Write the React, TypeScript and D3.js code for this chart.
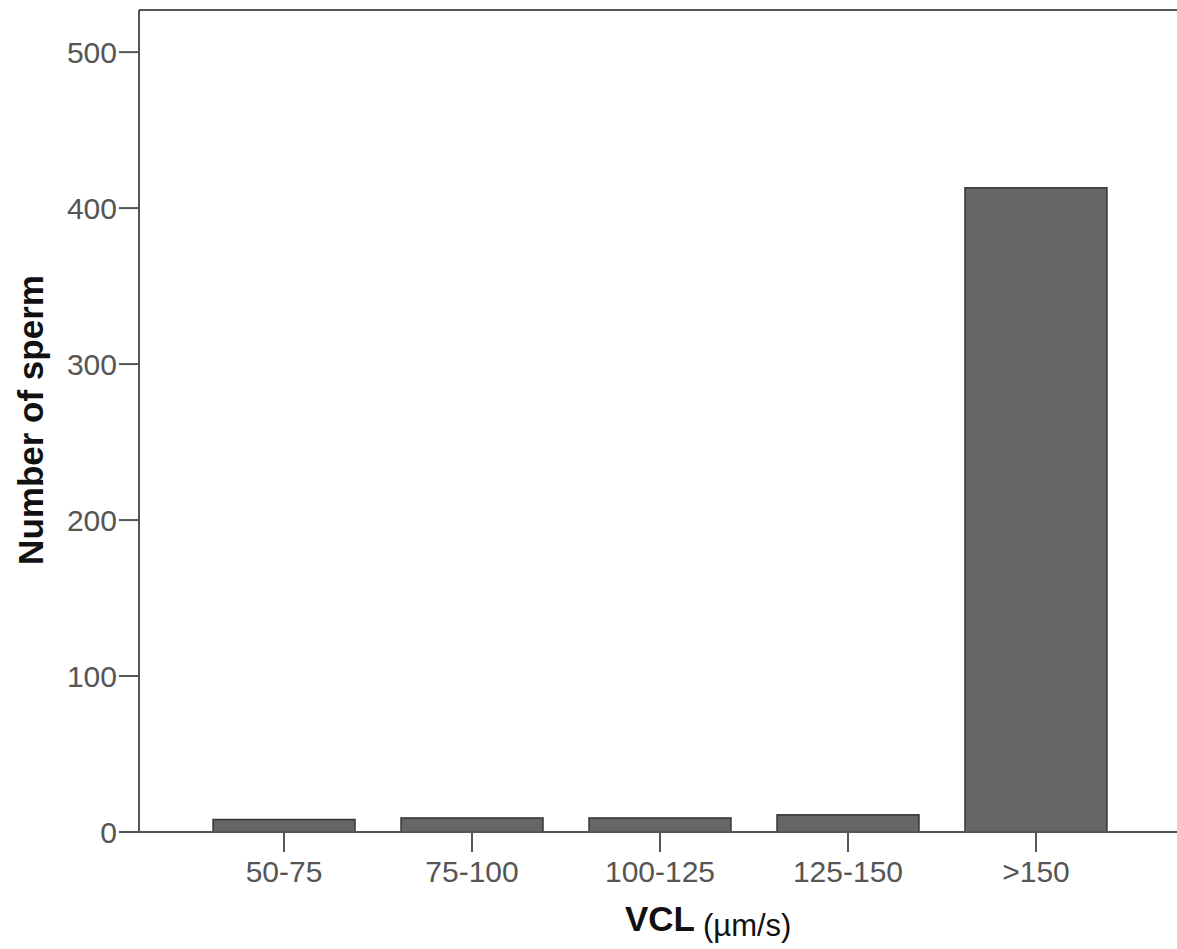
import React from "react";
import * as d3 from "d3";

const categories = ["50-75", "75-100", "100-125", "125-150", ">150"];
const counts = [8, 9, 9, 11, 413];
const yTicks = [0, 100, 200, 300, 400, 500];

const W = 1177;
const H = 949;
const frame = { left: 139, top: 10, right: 1181, bottom: 832 };

export default function App() {
  const x = d3
    .scaleBand<string>()
    .domain(categories)
    .range([frame.left, frame.right])
    .paddingInner(0.245)
    .paddingOuter(0.394);

  const y = d3.scaleLinear().domain([0, 527]).range([frame.bottom, frame.top]);

  const axisColor = "#555";
  const font = "'Liberation Sans', Arial, sans-serif";

  return (
    <svg
      width={W}
      height={H}
      style={{ position: "absolute", left: 0, top: 0, background: "#fff" }}
      fontFamily={font}
    >
      {/* bars */}
      {categories.map((c, i) => (
        <rect
          key={c}
          x={x(c)}
          y={y(counts[i])}
          width={x.bandwidth()}
          height={y(0) - y(counts[i])}
          fill="#666"
          stroke="#333"
          strokeWidth={1.5}
        />
      ))}

      {/* frame */}
      <line x1={frame.left} x2={frame.right} y1={frame.top} y2={frame.top} stroke={axisColor} strokeWidth={2} />
      <line x1={frame.left} x2={frame.left} y1={frame.top} y2={frame.bottom} stroke={axisColor} strokeWidth={2} />
      <line x1={frame.left} x2={frame.right} y1={frame.bottom} y2={frame.bottom} stroke={axisColor} strokeWidth={2} />

      {/* y axis */}
      {yTicks.map((t) => (
        <g key={t} transform={`translate(0,${y(t)})`}>
          <line x1={frame.left - 20} x2={frame.left} stroke={axisColor} strokeWidth={2} />
          <text x={frame.left - 22} dy="0.35em" textAnchor="end" fontSize={30} fill="#555">
            {t}
          </text>
        </g>
      ))}

      {/* x axis */}
      {categories.map((c) => {
        const cx = (x(c) as number) + x.bandwidth() / 2;
        return (
          <g key={c} transform={`translate(${cx},0)`}>
            <line y1={frame.bottom} y2={frame.bottom + 20} stroke={axisColor} strokeWidth={2} />
            <text y={frame.bottom + 50} textAnchor="middle" fontSize={30} fill="#555">
              {c}
            </text>
          </g>
        );
      })}

      {/* titles */}
      <text
        transform={`translate(43,420) rotate(-90)`}
        textAnchor="middle"
        fontSize={35}
        fontWeight="bold"
        fill="#111"
      >
        Number of sperm
      </text>
      <text x={625} y={931} fontSize={35} fontWeight="bold" fill="#111">
        VCL
        <tspan dx={8} dy={5} fontSize={31} fontWeight="normal">
          (µm/s)
        </tspan>
      </text>
    </svg>
  );
}
